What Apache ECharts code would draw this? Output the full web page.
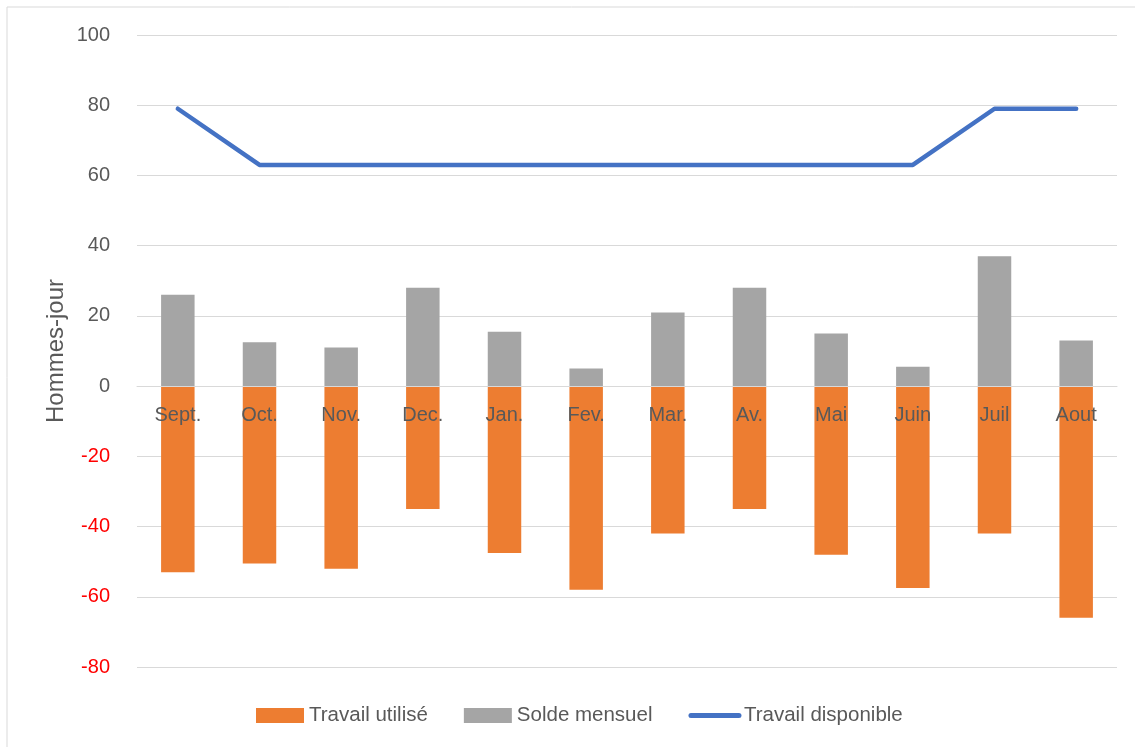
<!DOCTYPE html>
<html>
<head>
<meta charset="utf-8">
<script src="https://cdn.jsdelivr.net/npm/echarts@6/dist/echarts.min.js"></script>
<style>
  html, body { margin: 0; padding: 0; background: #fff; }
  #chart { width: 1135px; height: 747px; }
</style>
</head>
<body>
<div id="chart"></div>
<script>
// Monthly labour balance (man-days)
const months = ['Sept.', 'Oct.', 'Nov.', 'Dec.', 'Jan.', 'Fev.', 'Mar.', 'Av.', 'Mai', 'Juin', 'Juil', 'Aout'];
const travailUtilise = [-53, -50.5, -52, -35, -47.5, -58, -42, -35, -48, -57.5, -42, -66];
const soldeMensuel = [26, 12.5, 11, 28, 15.5, 5, 21, 28, 15, 5.5, 37, 13];
const travailDisponible = [79, 63, 63, 63, 63, 63, 63, 63, 63, 63, 79, 79];
const yTicks = { min: -80, max: 100, interval: 20 };

const FONT = 'Liberation Sans';
const TEXT = '#595959';

const GRID = { left: 137, right: 18, top: 35, bottom: 80 };
const PLOT_H = 747 - GRID.top - GRID.bottom;
// distance from the bottom of the plot up to the zero line, so the category axis sits on y = 0
const zeroOffset = PLOT_H * (0 - yTicks.min) / (yTicks.max - yTicks.min);

const chart = echarts.init(document.getElementById('chart'), null, { renderer: 'canvas' });

chart.setOption({
  animation: false,
  backgroundColor: '#ffffff',
  textStyle: { fontFamily: FONT },
  graphic: [
    {
      type: 'rect',
      shape: { x: 7, y: 7, width: 1140, height: 750 },
      style: { fill: 'none', stroke: '#d9d9d9', lineWidth: 1 },
      silent: true
    }
  ],
  grid: { left: GRID.left, right: GRID.right, top: GRID.top, bottom: GRID.bottom, containLabel: false },
  legend: {
    left: 251,
    top: 700,
    itemWidth: 48,
    itemHeight: 15,
    itemGap: 36,
    textStyle: { color: TEXT, fontSize: 20.5, fontFamily: FONT },
    data: [
      { name: 'Travail utilisé', icon: 'rect' },
      { name: 'Solde mensuel', icon: 'rect' },
      {
        name: 'Travail disponible',
        itemStyle: { opacity: 0 },
        lineStyle: { width: 5, cap: 'round', color: '#4472c4' }
      }
    ]
  },
  xAxis: {
    type: 'category',
    data: months,
    z: 5,
    position: 'bottom',
    offset: -zeroOffset,
    axisLine: { onZero: false, lineStyle: { color: '#d9d9d9', width: 1 } },
    axisTick: { show: false },
    axisLabel: { color: TEXT, fontSize: 20, fontFamily: FONT, margin: 19 },
    splitLine: { show: false }
  },
  yAxis: {
    type: 'value',
    min: yTicks.min,
    max: yTicks.max,
    interval: yTicks.interval,
    name: 'Hommes-jour',
    nameLocation: 'middle',
    nameGap: 69,
    nameRotate: 90,
    nameMoveOverlap: false,
    nameTextStyle: { color: TEXT, fontSize: 24, fontFamily: FONT },
    axisLine: { show: false },
    axisTick: { show: false },
    axisLabel: {
      fontSize: 20,
      fontFamily: FONT,
      margin: 27,
      color: function (v) { return Number(v) < 0 ? '#ff0000' : TEXT; }
    },
    splitLine: { lineStyle: { color: '#d9d9d9', width: 1 } }
  },
  series: [
    {
      name: 'Travail utilisé',
      type: 'bar',
      stack: 'bilan',
      barWidth: '41%',
      itemStyle: { color: '#ed7d31' },
      data: travailUtilise
    },
    {
      name: 'Solde mensuel',
      type: 'bar',
      stack: 'bilan',
      barWidth: '41%',
      itemStyle: { color: '#a5a5a5' },
      data: soldeMensuel
    },
    {
      name: 'Travail disponible',
      type: 'line',
      symbol: 'none',
      z: 6,
      lineStyle: { color: '#4472c4', width: 4.5, cap: 'round', join: 'round' },
      itemStyle: { color: '#4472c4' },
      data: travailDisponible
    }
  ]
});
</script>
</body>
</html>
